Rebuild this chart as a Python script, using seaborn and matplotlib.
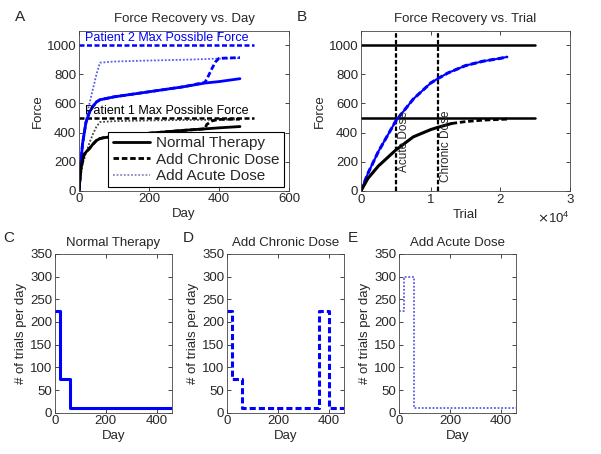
import numpy as np
import pandas as pd
import matplotlib
matplotlib.use('Agg')
import matplotlib.pyplot as plt
import seaborn as sns

sns.set_style('ticks')
plt.rcParams['font.family'] = ['Liberation Sans', 'DejaVu Sans']

# ---------- panel A: force vs day ----------
p1_normal_day = [0, 5, 10, 15, 20, 30, 40, 50, 60, 70, 100, 200, 300, 360, 400, 460]
p1_normal_force = [0, 140, 205, 250, 265, 290, 320, 345, 358, 364, 373, 395, 415, 425, 432, 441]
p1_chronic_day = [0, 5, 10, 15, 20, 30, 40, 50, 60, 70, 100, 200, 300, 360, 365, 380, 400, 460]
p1_chronic_force = [0, 140, 205, 250, 265, 290, 320, 345, 358, 364, 373, 395, 415, 425, 455, 480, 490, 492]
p1_acute_day = [0, 10, 20, 30, 40, 50, 60, 100, 200, 300, 400, 460]
p1_acute_force = [0, 180, 260, 330, 390, 440, 472, 478, 483, 486, 488, 490]

p2_normal_day = [0, 5, 10, 20, 30, 40, 50, 60, 70, 100, 200, 300, 360, 400, 460]
p2_normal_force = [0, 180, 320, 470, 540, 580, 610, 625, 630, 645, 680, 715, 740, 750, 770]
p2_chronic_day = [0, 5, 10, 20, 30, 40, 50, 60, 70, 100, 200, 300, 360, 370, 380, 390, 400, 460]
p2_chronic_force = [0, 180, 320, 470, 540, 580, 610, 625, 630, 645, 680, 715, 745, 790, 840, 885, 910, 915]
p2_acute_day = [0, 10, 20, 30, 40, 50, 60, 100, 200, 300, 400, 460]
p2_acute_force = [0, 300, 480, 600, 700, 800, 880, 888, 895, 900, 908, 912]

max_force_p1 = 500
max_force_p2 = 1000

# ---------- panel B: force vs trial ----------
trial_p2 = [0, 1000, 2500, 5000, 7500, 10000, 11000, 12500, 15000, 17500, 20000, 21000]
force_trial_p2 = [0, 120, 270, 480, 630, 740, 770, 810, 860, 890, 910, 920]
trial_p1 = [0, 1000, 2500, 5000, 7500, 10000, 11000, 13000]
force_trial_p1 = [0, 85, 170, 280, 370, 420, 435, 462]
trial_p1_ext = [13000, 15000, 17500, 20000, 21000]
force_trial_p1_ext = [462, 475, 485, 490, 492]
acute_trial = 5000
chronic_trial = 11000

# ---------- panels C-E: trials per day ----------
normal_sched_day = [0, 20, 60, 460]
normal_sched = [225, 75, 10, 10]
chronic_sched_day = [0, 20, 60, 360, 400, 460]
chronic_sched = [225, 75, 10, 225, 10, 10]
acute_sched_day = [0, 20, 60, 460]
acute_sched = [225, 300, 10, 10]

fig = plt.figure(figsize=(6.01, 4.54), dpi=100)
axA = fig.add_axes([0.1314, 0.580, 0.3494, 0.3524])
axB = fig.add_axes([0.6007, 0.580, 0.3478, 0.3524])
axC = fig.add_axes([0.0915, 0.091, 0.1947, 0.3496])
axD = fig.add_axes([0.3777, 0.091, 0.1952, 0.3496])
axE = fig.add_axes([0.6639, 0.091, 0.1950, 0.3496])

fs = 9.5
blue = '#0000ff'
light_blue = '#5a5aee'
dash = (0, (2, 1))
dot = (0, (1, 1))


def line(ax, x, y, **kw):
    sns.lineplot(x=x, y=y, ax=ax, estimator=None, sort=False, **kw)


# panel A
line(axA, [0, 500], [max_force_p2] * 2, color=blue, lw=1.8, ls=dash)
line(axA, [0, 500], [max_force_p1] * 2, color='black', lw=1.8, ls=dash)
line(axA, p2_acute_day, p2_acute_force, color=light_blue, lw=1.3, ls=dot)
line(axA, p2_chronic_day, p2_chronic_force, color=blue, lw=2, ls=dash)
line(axA, p2_normal_day, p2_normal_force, color=blue, lw=2, ls='-')
line(axA, p1_acute_day, p1_acute_force, color='#444444', lw=1.3, ls=dot)
line(axA, p1_chronic_day, p1_chronic_force, color='black', lw=2, ls=dash)
line(axA, p1_normal_day, p1_normal_force, color='black', lw=2, ls='-')
axA.text(250, 1010, 'Patient 2 Max Possible Force', color=blue, ha='center', va='bottom', fontsize=9)
axA.text(250, 505, 'Patient 1 Max Possible Force', color='black', ha='center', va='bottom', fontsize=9)

h1, = axA.plot([], [], color='black', lw=2, ls='-')
h2, = axA.plot([], [], color='black', lw=2, ls=dash)
h3, = axA.plot([], [], color='#8888bb', lw=1.3, ls=dot)
leg = axA.legend([h1, h2, h3], ['Normal Therapy', 'Add Chronic Dose', 'Add Acute Dose'],
                 loc='lower right', bbox_to_anchor=(0.975, 0.02), fontsize=11,
                 handlelength=2.4, labelspacing=0.15, borderpad=0.3, handletextpad=0.4,
                 fancybox=False, framealpha=1, edgecolor='black', borderaxespad=0)
leg.get_frame().set_linewidth(0.8)
axA.set_xlim(0, 600)
axA.set_ylim(0, 1100)
axA.set_xticks([0, 200, 400, 600])
axA.set_yticks([0, 200, 400, 600, 800, 1000])
axA.set_xlabel('Day', fontsize=fs, labelpad=2)
axA.set_ylabel('Force', fontsize=fs, labelpad=2)
axA.set_title('Force Recovery vs. Day', fontsize=fs)

# panel B
line(axB, [0, 25000], [max_force_p2] * 2, color='black', lw=1.8)
line(axB, [0, 25000], [max_force_p1] * 2, color='black', lw=1.8)
line(axB, [acute_trial] * 2, [0, 1100], color='black', lw=1.6, ls=dash)
line(axB, [chronic_trial] * 2, [0, 1100], color='black', lw=1.6, ls=dash)
line(axB, trial_p2, force_trial_p2, color=blue, lw=1.5, ls='-')
line(axB, trial_p2, force_trial_p2, color=blue, lw=2.2, ls=dash)
line(axB, trial_p1, force_trial_p1, color='black', lw=2.2, ls='-')
line(axB, trial_p1_ext, force_trial_p1_ext, color='black', lw=2, ls=dash)
axB.text(acute_trial + 350, 550, 'Acute Dose', rotation=90, ha='left', va='top', fontsize=8.5)
axB.text(chronic_trial + 350, 550, 'Chronic Dose', rotation=90, ha='left', va='top', fontsize=8.5)
axB.set_xlim(0, 30000)
axB.set_ylim(0, 1100)
axB.set_xticks([0, 10000, 20000, 30000])
axB.set_yticks([0, 200, 400, 600, 800, 1000])
axB.ticklabel_format(axis='x', style='sci', scilimits=(4, 4), useMathText=True)
axB.xaxis.get_offset_text().set_fontsize(fs)
axB.set_xlabel('Trial', fontsize=fs, labelpad=2)
axB.set_ylabel('Force', fontsize=fs, labelpad=2)
axB.set_title('Force Recovery vs. Trial', fontsize=fs)

# panels C-E
line(axC, normal_sched_day, normal_sched, color=blue, lw=2.2, ls='-', drawstyle='steps-post')
line(axD, chronic_sched_day, chronic_sched, color=blue, lw=2.2, ls=dash, drawstyle='steps-post')
line(axE, acute_sched_day, acute_sched, color=light_blue, lw=1.3, ls=dot, drawstyle='steps-post')
for ax, title in zip([axC, axD, axE], ['Normal Therapy', 'Add Chronic Dose', 'Add Acute Dose']):
    ax.set_xlim(0, 460)
    ax.set_ylim(0, 350)
    ax.set_xticks([0, 200, 400])
    ax.set_yticks(range(0, 351, 50))
    ax.set_xlabel('Day', fontsize=fs, labelpad=2)
    ax.set_ylabel('# of trials per day', fontsize=fs, labelpad=2)
    ax.set_title(title, fontsize=fs)

for ax in [axA, axB, axC, axD, axE]:
    ax.tick_params(direction='in', top=True, right=True, labelsize=fs, length=3, width=0.6, pad=2)
    for s in ax.spines.values():
        s.set_linewidth(0.6)
        s.set_color('#444444')

fig.text(15 / 601, 1 - 17 / 454, 'A', fontsize=11, va='center')
fig.text(297 / 601, 1 - 17 / 454, 'B', fontsize=11, va='center')
fig.text(3 / 601, 1 - 238 / 454, 'C', fontsize=11, va='center')
fig.text(183 / 601, 1 - 238 / 454, 'D', fontsize=11, va='center')
fig.text(348 / 601, 1 - 238 / 454, 'E', fontsize=11, va='center')

fig.savefig('out.png', dpi=100)
